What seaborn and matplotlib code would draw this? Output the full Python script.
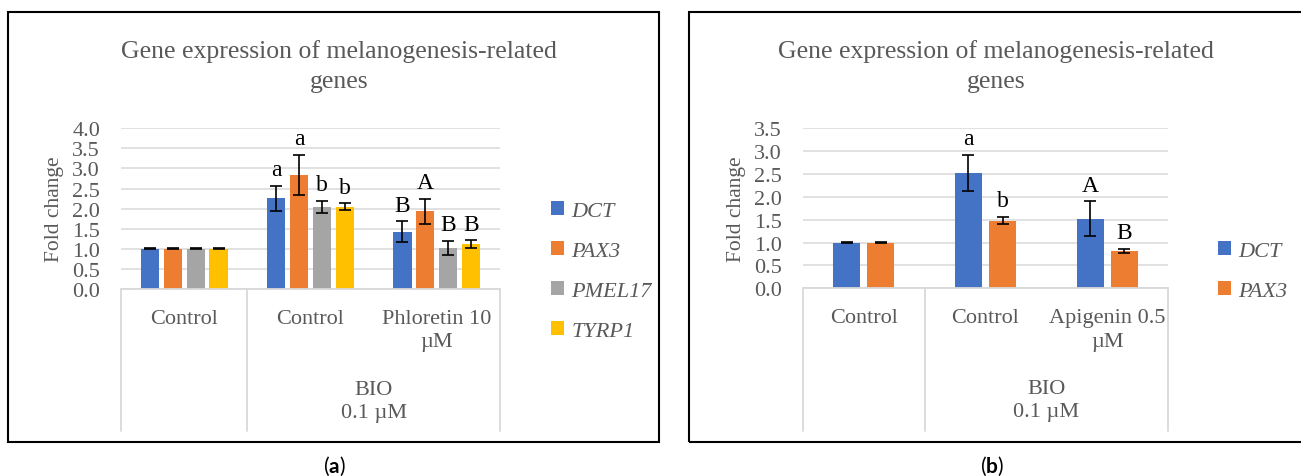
import numpy as np
import pandas as pd
import matplotlib
matplotlib.use("Agg")
import matplotlib.pyplot as plt
import matplotlib.transforms as mtransforms
from matplotlib.patches import Patch, Rectangle
from matplotlib.lines import Line2D
from matplotlib.font_manager import FontProperties
import seaborn as sns

# ---------------- data ----------------
genes_a = ["DCT", "PAX3", "PMEL17", "TYRP1"]
conditions_a = ["Control", "BIO 0.1 µM + Control", "BIO 0.1 µM + Phloretin 10 µM"]
tick_labels_a = ["Control", "Control", "Phloretin 10\nµM"]
values_a = {
    "DCT":    [1.00, 2.26, 1.43],
    "PAX3":   [1.00, 2.84, 1.93],
    "PMEL17": [1.00, 2.04, 1.02],
    "TYRP1":  [1.00, 2.05, 1.11],
}
errors_a = {
    "DCT":    [0.01, 0.31, 0.26],
    "PAX3":   [0.01, 0.50, 0.31],
    "PMEL17": [0.01, 0.15, 0.18],
    "TYRP1":  [0.01, 0.08, 0.10],
}
letters_a = {
    "DCT":    ["", "a", "B"],
    "PAX3":   ["", "a", "A"],
    "PMEL17": ["", "b", "B"],
    "TYRP1":  ["", "b", "B"],
}

genes_b = ["DCT", "PAX3"]
conditions_b = ["Control", "BIO 0.1 µM + Control", "BIO 0.1 µM + Apigenin 0.5 µM"]
tick_labels_b = ["Control", "Control", "Apigenin 0.5\nµM"]
values_b = {
    "DCT":  [1.00, 2.52, 1.52],
    "PAX3": [1.00, 1.48, 0.82],
}
errors_b = {
    "DCT":  [0.01, 0.40, 0.38],
    "PAX3": [0.01, 0.08, 0.05],
}
letters_b = {
    "DCT":  ["", "a", "A"],
    "PAX3": ["", "b", "B"],
}

group_label = "BIO\n0.1 µM"
title_text = "Gene expression of melanogenesis-related\ngenes"
ylabel_text = "Fold change"
yticks_a = [0.0, 0.5, 1.0, 1.5, 2.0, 2.5, 3.0, 3.5, 4.0]
yticks_b = [0.0, 0.5, 1.0, 1.5, 2.0, 2.5, 3.0, 3.5]

colors = {"DCT": "#4472C4", "PAX3": "#ED7D31", "PMEL17": "#A5A5A5", "TYRP1": "#FFC000"}

# ---------------- style ----------------
sns.set_style("white")
plt.rcParams["font.family"] = ["Liberation Serif", "DejaVu Serif"]
plt.rcParams["mathtext.fontset"] = "custom"
plt.rcParams["mathtext.rm"] = "Lato"
plt.rcParams["mathtext.bf"] = "Lato:bold"

W, H = 1301, 477
fig = plt.figure(figsize=(W / 100, H / 100), dpi=100)
fig.patch.set_facecolor("white")

GRAY_TXT = "#595959"
GRID = "#D9D9D9"
FS = 15.5


def fx(px):
    return px / W


def fy(py):
    return 1 - py / H


def to_long(genes, conditions, values):
    rows = []
    for g in genes:
        for c, v in zip(conditions, values[g]):
            rows.append({"condition": c, "gene": g, "value": v})
    return pd.DataFrame(rows)


def panel(rect_px, genes, conditions, tick_labels, values, errors, letters,
          yticks, width, gap, frame_px, title_xy, ylabel_x, legend_xy, cap_xy, cap_letter):
    left, top_px, right, bottom_px = rect_px
    ax = fig.add_axes([fx(left), fy(bottom_px), (right - left) / W, (bottom_px - top_px) / H])
    df = to_long(genes, conditions, values)
    sns.barplot(data=df, x="condition", y="value", hue="gene", order=conditions,
                hue_order=genes, palette=[colors[g] for g in genes], width=width, gap=gap,
                errorbar=None, saturation=1, legend=False, ax=ax, zorder=3, linewidth=0)
    ax.set_xlim(-0.5, len(conditions) - 0.5)
    ax.set_ylim(0, yticks[-1])
    ax.set_yticks(yticks)
    ax.set_yticklabels([f"{t:.1f}" for t in yticks])
    ax.tick_params(axis="y", length=0, pad=15, labelsize=FS + 0.5, labelcolor=GRAY_TXT)
    ax.set_xticks([])
    ax.set_xlabel("")
    ax.set_ylabel("")
    for s in ax.spines.values():
        s.set_visible(False)
    ax.yaxis.grid(True, color=GRID, linewidth=1.1, zorder=0)
    ax.set_axisbelow(True)
    ax.set_facecolor("none")

    # error bars and letters
    for g, cont in zip(genes, ax.containers):
        xs = [p.get_x() + p.get_width() / 2 for p in cont.patches]
        hs = [p.get_height() for p in cont.patches]
        ax.errorbar(xs, hs, yerr=errors[g], fmt="none", ecolor="black",
                    elinewidth=1.2, capsize=4.3, capthick=1.2, zorder=4)
        for x, h, e, lt in zip(xs, hs, errors[g], letters[g]):
            if lt:
                ax.annotate(lt, (x, h + e), xytext=(0, 4), textcoords="offset points",
                            ha="center", va="bottom", fontsize=FS + 1.5, color="black")

    # category axis (multi-level)
    tr = mtransforms.blended_transform_factory(ax.transData, fig.transFigure)
    n = len(conditions)
    for xb, ybot in [(-0.5, 432), (0.5, 432), (n - 0.5, 432)]:
        fig.add_artist(Line2D([xb, xb], [fy(bottom_px), fy(ybot)], transform=tr,
                              color=GRID, linewidth=1.3))
    fig.add_artist(Line2D([-0.5, n - 0.5], [fy(bottom_px), fy(bottom_px)], transform=tr,
                          color=GRID, linewidth=1.3))
    for i, lab in enumerate(tick_labels):
        fig.text(i, fy(bottom_px + 20), lab, transform=tr, ha="center", va="top",
                 fontsize=FS + 0.5, color=GRAY_TXT, linespacing=1.3)
    fig.text((1 + n - 1) / 2, fy(bottom_px + 91), group_label, transform=tr, ha="center",
             va="top", fontsize=FS + 0.5, color=GRAY_TXT, linespacing=1.3)

    # title, y label
    fig.text(fx(title_xy[0]), fy(title_xy[1]), title_text, ha="center", va="center",
             fontsize=18.5, color=GRAY_TXT, linespacing=1.42)
    fig.text(fx(ylabel_x), fy((top_px + bottom_px) / 2), ylabel_text, rotation=90,
             ha="center", va="center", fontsize=FS, color=GRAY_TXT)

    # legend
    handles = [Patch(facecolor=colors[g], edgecolor="none") for g in genes]
    ax.legend(handles, genes, loc="center left", bbox_to_anchor=(fx(legend_xy[0]), fy(legend_xy[1])),
              bbox_transform=fig.transFigure, frameon=False, borderpad=0,
              handlelength=0.6, handleheight=0.6, handletextpad=0.3, labelspacing=0.9,
              prop=FontProperties(family="Liberation Serif", style="italic", size=FS + 0.5),
              labelcolor=GRAY_TXT)

    # frame
    x0, y0, x1, y1 = frame_px
    fig.add_artist(Rectangle((fx(x0), fy(y1)), (x1 - x0) / W, (y1 - y0) / H,
                             transform=fig.transFigure, fill=False, edgecolor="black",
                             linewidth=1.5))
    fig.text(fx(cap_xy[0]), fy(cap_xy[1]), r"($\mathbf{" + cap_letter + r"}$)", ha="center",
             va="center", fontsize=15, color="black", family="Lato")
    return ax


panel((121, 129.3, 500, 290), genes_a, conditions_a, tick_labels_a, values_a, errors_a,
      letters_a, yticks_a, width=0.725, gap=0.21, frame_px=(8, 13, 659, 443),
      title_xy=(339, 66.5), ylabel_x=55, legend_xy=(540, 272), cap_xy=(334, 466), cap_letter="a")

panel((803, 129.3, 1168, 289.3), genes_b, conditions_b, tick_labels_b, values_b, errors_b,
      letters_b, yticks_b, width=0.56, gap=0.21, frame_px=(689, 13, 1320, 443),
      title_xy=(996, 66.5), ylabel_x=737, legend_xy=(1207, 272), cap_xy=(992, 466), cap_letter="b")

fig.savefig("out.png", dpi=100, facecolor="white")
